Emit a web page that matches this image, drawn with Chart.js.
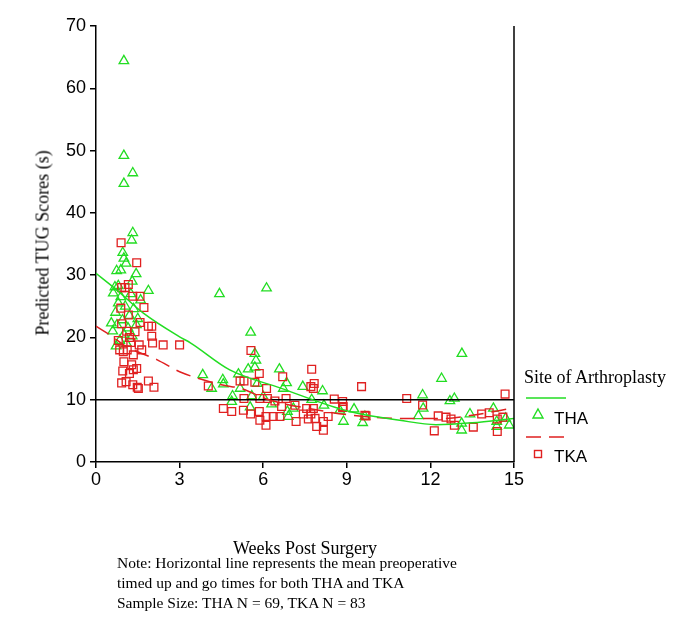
<!DOCTYPE html>
<html>
<head>
<meta charset="utf-8">
<script src="https://cdn.jsdelivr.net/npm/chart.js@4.4.1/dist/chart.umd.min.js"></script>
<style>
  body { margin: 0; background: #fff; }
  #wrap { position: relative; width: 685px; height: 629px; }
  .serif { font-family: "Liberation Serif", "DejaVu Serif", serif; color: #000; position: absolute; white-space: nowrap; }
  .sans { font-family: "Liberation Sans", Arial, sans-serif; color: #000; position: absolute; white-space: nowrap; }
</style>
</head>
<body>
<div id="wrap">
  <canvas id="myChart" width="685" height="629"></canvas>
  <div class="serif" id="ytitle" style="font-size:18px; left:43px; top:243px; transform: translate(-50%,-50%) rotate(-90deg);">Predicted TUG Scores (s)</div>
  <div class="serif" style="font-size:18px; left:305px; top:548px; transform: translate(-50%,-50%);">Weeks Post Surgery</div>
  <div class="serif" style="font-size:15.5px; left:117px; top:553px; line-height:20px;">Note: Horizontal line represents the mean preoperative<br>timed up and go times for both THA and TKA<br>Sample Size: THA N = 69, TKA N = 83</div>
  <div class="serif" style="font-size:18px; left:524px; top:367px;">Site of Arthroplasty</div>
  <svg style="position:absolute; left:0; top:0;" width="685" height="629">
    <line x1="526" y1="398" x2="566" y2="398" stroke="#22dd22" stroke-width="1.5"/>
    <polygon points="538,409 543,418 533,418" fill="none" stroke="#22dd22" stroke-width="1.4"/>
    <line x1="526" y1="437" x2="566" y2="437" stroke="#e02020" stroke-width="1.5" stroke-dasharray="15,8"/>
    <rect x="534.5" y="450.5" width="7" height="7" fill="none" stroke="#e02020" stroke-width="1.4"/>
  </svg>
  <div class="sans" style="font-size:17px; left:554px; top:409px;">THA</div>
  <div class="sans" style="font-size:17px; left:554px; top:447px;">TKA</div>
</div>
<script>
const thaWeeks = [1.0,1.0,1.32,1.0,1.32,1.28,0.96,1.0,1.08,0.89,0.74,1.44,1.88,0.62,0.89,1.3,0.8,1.05,1.35,0.7,1.2,0.95,1.5,0.75,1.15,0.6,1.0,1.3,0.85,1.1,0.72,1.45,1.6,1.25,0.55,0.68,0.8,
  4.43,6.12,5.55,5.7,5.74,5.7,3.83,4.15,4.55,4.57,5.11,5.46,5.17,5.79,6.58,6.84,6.72,7.42,8.13,4.9,4.87,5.59,5.53,6.87,6.9,8.18,8.75,8.88,9.26,9.65,7.08,7.74,6.3,6.0,
  9.57,11.57,11.72,11.74,12.4,13.13,12.7,12.86,13.42,13.12,13.12,14.26,14.38,14.38,14.7,14.83];
const thaScores = [64.4,49.2,46.4,44.7,36.8,35.6,33.6,32.7,31.9,30.8,30.7,30.2,27.5,27.1,26.5,29.0,25.5,25.0,24.6,24.0,23.5,22.8,23.0,22.0,21.5,21.0,20.5,20.2,19.5,19.0,18.6,22.0,26.0,27.0,22.3,28.1,28.3,
  27.0,27.9,20.8,17.4,16.3,15.2,14.0,11.8,13.2,12.5,14.1,14.9,11.8,12.6,14.9,12.7,11.8,12.1,11.4,10.6,9.7,10.6,8.8,8.1,7.3,9.1,8.3,6.5,8.5,7.3,8.6,10.0,9.3,10.5,
  6.3,7.4,10.75,8.6,13.4,17.4,9.8,10.2,7.7,6.2,5.1,8.6,6.5,5.7,7.0,5.9];

const tkaWeeks = [0.9,1.46,1.16,0.92,1.04,1.32,1.58,0.89,1.72,1.16,1.58,1.88,0.92,1.4,1.2,2.0,2.03,2.41,1.55,1.64,0.98,1.12,1.34,1.0,1.28,1.34,0.96,1.2,1.46,1.08,0.92,1.32,1.48,1.88,2.08,1.52,3.0,2.0,1.1,0.8,1.25,0.85,
  5.56,5.86,5.17,5.31,5.7,6.12,4.03,6.7,7.74,7.83,7.8,7.71,5.31,5.88,6.15,6.42,6.82,4.57,4.87,5.29,5.55,5.86,5.88,6.1,6.1,6.36,6.6,6.66,7.14,7.44,7.56,7.71,7.8,7.86,7.92,8.16,8.16,8.55,8.87,7.18,7.62,8.85,8.33,9.53,9.65,
  11.15,11.72,14.68,8.85,9.69,12.28,12.56,12.74,12.14,12.86,13.54,13.84,14.11,14.4,14.4,14.6];
const tkaScores = [35.2,32.0,28.5,28.0,28.0,26.6,26.6,24.7,24.8,23.6,22.4,21.8,22.2,20.9,20.0,20.2,19.1,18.8,18.8,18.0,17.7,18.0,17.2,16.1,15.6,14.8,14.6,14.2,15.0,12.9,12.7,12.4,12.0,13.0,12.0,11.8,18.8,21.8,21.0,19.5,19.2,18.0,
  17.9,14.2,13.0,13.0,12.8,11.8,12.2,13.7,14.9,12.6,11.8,12.1,10.2,10.2,10.2,9.8,10.2,8.6,8.1,8.3,7.7,8.1,6.7,5.9,7.3,7.3,7.3,8.9,9.1,7.7,8.6,7.7,8.6,7.0,5.7,5.1,6.5,10.1,8.9,6.5,6.9,9.7,7.3,12.1,7.5,
  10.2,9.15,10.9,8.75,7.4,7.4,7.2,6.9,5.0,5.9,5.6,7.7,7.9,6.9,4.9,7.2];

const thaFitWeeks = [0, 0.75, 1.7, 3, 3.4, 4.8, 6.6, 9.1, 10.9, 12.2, 13.5, 15];
const thaFitScores = [30.3, 27.6, 23.9, 20.1, 19.1, 14.8, 11.9, 8.1, 6.7, 6.0, 6.3, 7.0];
const tkaFitWeeks = [0, 0.5, 1.1, 2.2, 3, 4.5, 5.2, 6.2, 8, 9, 10.9, 12.5, 13.5, 15];
const tkaFitScores = [21.8, 20.4, 18.5, 16.4, 14.5, 12.4, 11.8, 10.0, 8.3, 7.6, 7.0, 7.0, 7.5, 8.7];

const preopMean = 10;
const xTicks = [0, 3, 6, 9, 12, 15];
const yTicks = [0, 10, 20, 30, 40, 50, 60, 70];

const green = '#22dd22';
const red = '#e02020';

const pairs = (xs, ys) => xs.map((x, i) => ({x: x, y: ys[i]}));

// right frame line
const rightBorder = {
  id: 'rightBorder',
  afterDraw(chart) {
    const a = chart.chartArea, ctx = chart.ctx;
    ctx.save();
    ctx.strokeStyle = '#000';
    ctx.lineWidth = 1.5;
    ctx.beginPath();
    ctx.moveTo(a.right, a.top);
    ctx.lineTo(a.right, a.bottom);
    ctx.stroke();
    ctx.restore();
  }
};

new Chart("myChart", {
  type: "scatter",
  data: {
    datasets: [{
      label: 'THA',
      data: pairs(thaWeeks, thaScores),
      pointStyle: 'triangle',
      radius: 5.5,
      borderColor: green,
      backgroundColor: 'rgba(0,0,0,0)',
      borderWidth: 1.3,
      order: 2
    }, {
      label: 'TKA',
      data: pairs(tkaWeeks, tkaScores),
      pointStyle: 'rect',
      radius: 5.5,
      borderColor: red,
      backgroundColor: 'rgba(0,0,0,0)',
      borderWidth: 1.3,
      order: 1
    }, {
      type: 'line',
      data: pairs(thaFitWeeks, thaFitScores),
      borderColor: green,
      borderWidth: 1.5,
      pointRadius: 0,
      cubicInterpolationMode: 'monotone',
      fill: false,
      order: 0
    }, {
      type: 'line',
      data: pairs(tkaFitWeeks, tkaFitScores),
      borderColor: red,
      borderWidth: 1.5,
      borderDash: [15, 8],
      pointRadius: 0,
      cubicInterpolationMode: 'monotone',
      fill: false,
      order: 0
    }, {
      type: 'line',
      data: [{x: xTicks[0], y: preopMean}, {x: xTicks[xTicks.length - 1], y: preopMean}],
      borderColor: '#000',
      borderWidth: 1.5,
      pointRadius: 0,
      fill: false,
      order: 0
    }]
  },
  options: {
    responsive: false,
    animation: false,
    events: [],
    layout: {padding: {left: 0, top: 26, right: 171, bottom: 137}},
    plugins: {legend: {display: false}, tooltip: {enabled: false}},
    scales: {
      x: {
        type: 'linear',
        min: 0, max: 15,
        afterBuildTicks: s => { s.ticks = xTicks.map(v => ({value: v})); },
        afterFit: s => { s.height = 30; },
        ticks: {color: '#000', font: {family: 'Liberation Sans', size: 18}, padding: 1, maxRotation: 0},
        grid: {display: true, drawOnChartArea: false, drawTicks: true, tickLength: 6, color: '#000', lineWidth: 1.5},
        border: {display: true, color: '#000', width: 1.5}
      },
      y: {
        min: 0, max: 70,
        afterBuildTicks: s => { s.ticks = yTicks.map(v => ({value: v})); },
        afterFit: s => { s.width = 96; },
        ticks: {color: '#000', font: {family: 'Liberation Sans', size: 18}, padding: 4},
        grid: {display: true, drawOnChartArea: false, drawTicks: true, tickLength: 6, color: '#000', lineWidth: 1.5},
        border: {display: true, color: '#000', width: 1.5}
      }
    }
  },
  plugins: [rightBorder]
});
</script>
</body>
</html>
